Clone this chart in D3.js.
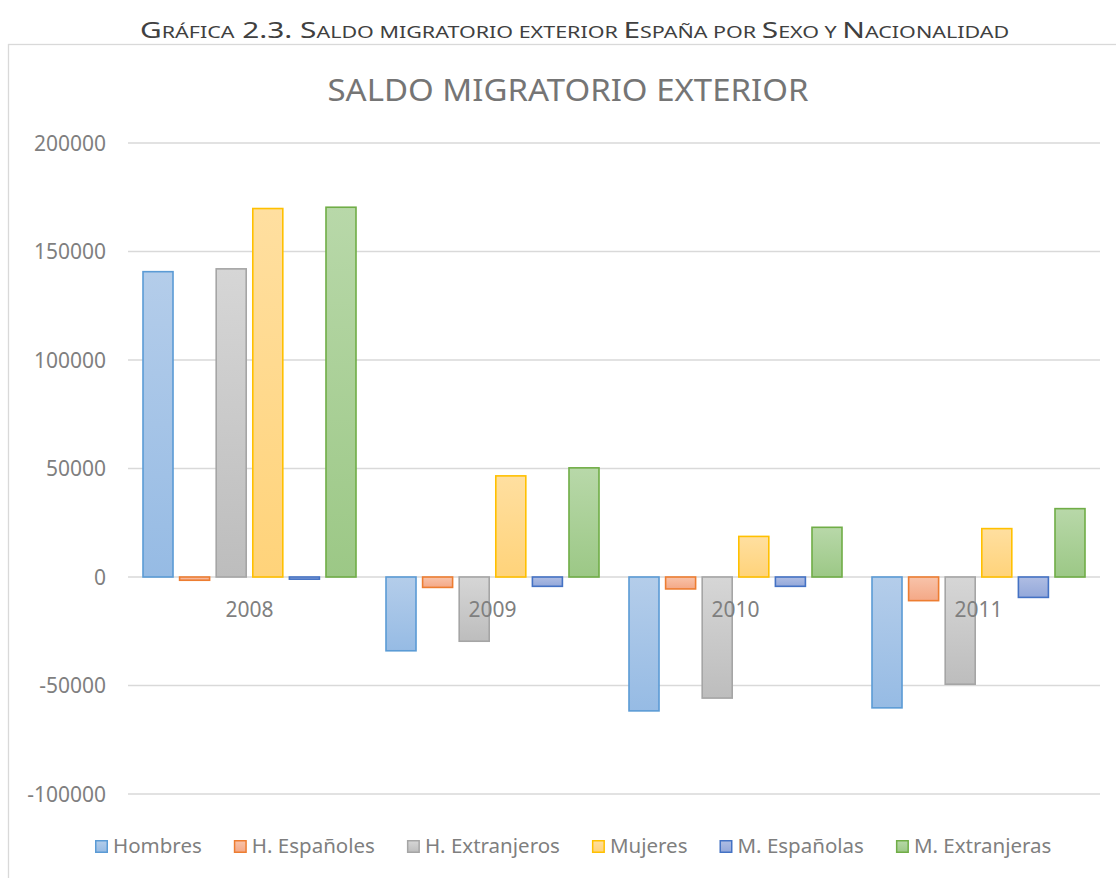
<!DOCTYPE html>
<html>
<head>
<meta charset="utf-8">
<script src="https://cdn.jsdelivr.net/npm/d3@7"></script>
<style>
  body { margin: 0; background: #ffffff; }
  text { font-family: "Noto Sans", "Open Sans", sans-serif; }
</style>
</head>
<body>
<div id="chart"></div>
<script>
// data
var years = ["2008", "2009", "2010", "2011"];
var seriesNames = ["Hombres", "H. Españoles", "H. Extranjeros", "Mujeres", "M. Españolas", "M. Extranjeras"];
var hombres = [140700, -34000, -61700, -60300];
var hEspanoles = [-1500, -4800, -5500, -10900];
var hExtranjeros = [142000, -29600, -55800, -49400];
var mujeres = [169800, 46600, 18700, 22300];
var mEspanolas = [-1000, -4300, -4300, -9400];
var mExtranjeras = [170400, 50300, 22900, 31500];
var yTicks = [-100000, -50000, 0, 50000, 100000, 150000, 200000];

var seriesValues = [hombres, hEspanoles, hExtranjeros, mujeres, mEspanolas, mExtranjeras];

// excel-ish colours: border, gradient top, gradient bottom
var strokeColors = ["#5B9BD5", "#ED7D31", "#A5A5A5", "#FFC000", "#4472C4", "#70AD47"];
var topColors = ["#B4CDEA", "#F8C3AA", "#D6D6D6", "#FFDFA0", "#AFBDE3", "#B8D8A9"];
var bottomColors = ["#96BBE4", "#F4A886", "#BDBDBD", "#FFD37A", "#93A8DA", "#9CC886"];

var W = 1116, H = 878;
var margin = { top: 143, left: 128, right: 16, bottom: 84 };
var plotW = W - margin.left - margin.right;
var plotH = H - margin.top - margin.bottom;

var svg = d3.select("#chart").append("svg")
  .attr("width", W)
  .attr("height", H);

var defs = svg.append("defs");
seriesNames.forEach(function (s, i) {
  var g = defs.append("linearGradient")
    .attr("id", "grad" + i)
    .attr("x1", 0).attr("y1", 0).attr("x2", 0).attr("y2", 1);
  g.append("stop").attr("offset", "0%").attr("stop-color", topColors[i]);
  g.append("stop").attr("offset", "100%").attr("stop-color", bottomColors[i]);
});

// header above the chart box, in small caps
// fitted horizontally to the width of the original
var headerG = svg.append("g");
var header = headerG.append("text")
  .attr("x", 0)
  .attr("y", 0)
  .attr("fill", "#404040");
var headerParts = [
  ["G", 1], ["RÁFICA", 0], [" 2.3. ", 1], ["S", 1], ["ALDO MIGRATORIO EXTERIOR ", 0],
  ["E", 1], ["SPAÑA POR ", 0], ["S", 1], ["EXO Y ", 0], ["N", 1], ["ACIONALIDAD", 0]
];
headerParts.forEach(function (p) {
  header.append("tspan")
    .style("font-size", p[1] ? "21.5px" : "15.5px")
    .style("white-space", "pre")
    .text(p[0]);
});
var hw = header.node().getComputedTextLength();
var sx = 870 / hw;
headerG.attr("transform", "translate(140,38) scale(" + sx + ",1)");

// chart box
svg.append("rect")
  .attr("x", 8.5)
  .attr("y", 44.5)
  .attr("width", 1120)
  .attr("height", 860)
  .attr("fill", "#ffffff")
  .attr("stroke", "#D9D9D9")
  .attr("stroke-width", 1.3);

svg.append("text")
  .attr("x", 568)
  .attr("y", 101)
  .attr("text-anchor", "middle")
  .attr("fill", "#757575")
  .style("font-size", "31px")
  .attr("textLength", 481)
  .attr("lengthAdjust", "spacingAndGlyphs")
  .text("SALDO MIGRATORIO EXTERIOR");

var g = svg.append("g")
  .attr("transform", "translate(" + margin.left + "," + margin.top + ")");

var y = d3.scaleLinear().domain([-100000, 200000]).range([plotH, 0]);
var x0 = d3.scaleBand().domain(years).range([0, plotW]);
var x1 = d3.scaleBand().domain(seriesNames)
  .range([15, x0.bandwidth() - 15])
  .paddingInner(0.18);

// gridlines + tick labels
g.append("g")
  .selectAll("line")
  .data(yTicks)
  .enter()
  .append("line")
  .attr("x1", 0)
  .attr("x2", plotW)
  .attr("y1", function (d) { return y(d); })
  .attr("y2", function (d) { return y(d); })
  .attr("stroke", "#D9D9D9")
  .attr("stroke-width", 1.3);

g.append("g")
  .selectAll("text")
  .data(yTicks)
  .enter()
  .append("text")
  .attr("x", -22)
  .attr("y", function (d) { return y(d); })
  .attr("dy", "0.36em")
  .attr("text-anchor", "end")
  .attr("fill", "#7F7F7F")
  .style("font-size", "21px")
  .text(function (d) { return d; });

// bars
var rows = years.map(function (yr, j) {
  return seriesNames.map(function (s, i) {
    return { year: yr, name: s, idx: i, value: seriesValues[i][j] };
  });
});

var groups = g.append("g")
  .selectAll("g")
  .data(rows)
  .enter()
  .append("g")
  .attr("transform", function (d, j) { return "translate(" + x0(years[j]) + ",0)"; });

groups.selectAll("rect")
  .data(function (d) { return d; })
  .enter()
  .append("rect")
  .attr("x", function (d) { return x1(d.name); })
  .attr("y", function (d) { return Math.min(y(d.value), y(0)); })
  .attr("width", x1.bandwidth())
  .attr("height", function (d) { return Math.abs(y(d.value) - y(0)); })
  .attr("fill", function (d) { return "url(#grad" + d.idx + ")"; })
  .attr("stroke", function (d) { return strokeColors[d.idx]; })
  .attr("stroke-width", 1.6);

// category labels sit just under the zero line, on top of the bars
g.append("g")
  .selectAll("text")
  .data(years)
  .enter()
  .append("text")
  .attr("x", function (d) { return x0(d) + x0.bandwidth() / 2; })
  .attr("y", y(0) + 40)
  .attr("text-anchor", "middle")
  .attr("fill", "#7F7F7F")
  .style("font-size", "21px")
  .text(function (d) { return d; });

// legend
var legend = svg.append("g").attr("transform", "translate(0,853)");
var lx = 95;
seriesNames.forEach(function (s, i) {
  legend.append("rect")
    .attr("x", lx + 0.75)
    .attr("y", -12.25)
    .attr("width", 11.5)
    .attr("height", 11.5)
    .attr("fill", "url(#grad" + i + ")")
    .attr("stroke", strokeColors[i])
    .attr("stroke-width", 1.5);
  var t = legend.append("text")
    .attr("x", lx + 18)
    .attr("y", 0)
    .attr("fill", "#7F7F7F")
    .style("font-size", "20.5px")
    .text(s);
  lx = lx + 18 + t.node().getComputedTextLength() + 32;
});
</script>
</body>
</html>
